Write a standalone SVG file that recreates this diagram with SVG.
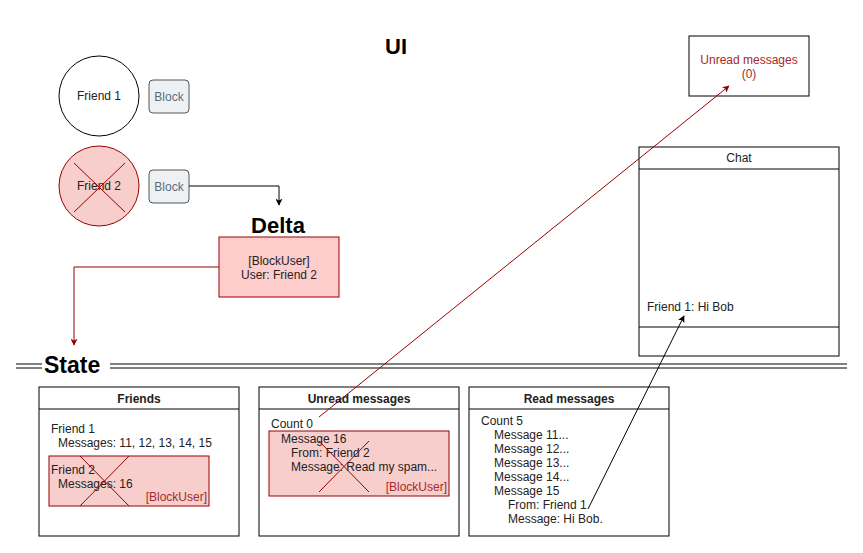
<svg xmlns="http://www.w3.org/2000/svg" width="863" height="553" viewBox="0 0 863 553">
<style>
text{font-family:"Liberation Sans",Arial,sans-serif;font-size:12px;fill:#222}
.c{text-anchor:middle}
.r{text-anchor:end}
.b{font-weight:bold}
.big{font-weight:bold;font-size:22px;fill:#000}
.red{fill:#a52a2a}
.box{fill:#fff;stroke:#000;stroke-width:1}
.pink{fill:#f8cecc;stroke:#990000;stroke-width:1}
.btn{fill:#eef1f4;stroke:#555;stroke-width:1}
.btxt{fill:#5c6a80}
.x{stroke:#990000;stroke-width:1;fill:none}
.dbl{stroke:#000;stroke-width:1}
</style>
<defs>
<marker id="ab" viewBox="0 0 10 10" refX="9" refY="5" markerWidth="7" markerHeight="7" orient="auto" markerUnits="userSpaceOnUse"><path d="M0,0 L10,5 L0,10 L2.5,5 z" fill="#000"/></marker>
<marker id="ar" viewBox="0 0 10 10" refX="9" refY="5" markerWidth="7" markerHeight="7" orient="auto" markerUnits="userSpaceOnUse"><path d="M0,0 L10,5 L0,10 L2.5,5 z" fill="#990000"/></marker>
</defs>
<rect width="863" height="553" fill="#fff"/>

<g id="ui-title"><text x="396" y="54" class="big c">UI</text></g>

<g id="friend1">
<circle cx="99" cy="96" r="40" class="box"/>
<text x="99" y="100" class="c">Friend 1</text>
</g>
<g id="block1">
<rect x="149" y="80" width="40" height="33" rx="4" class="btn"/>
<text x="169" y="101" class="c btxt">Block</text>
</g>
<g id="friend2">
<circle cx="99" cy="186" r="40" class="pink"/>
<text x="99" y="190" class="c">Friend 2</text>
<path d="M74,163 L125,212 M125,163 L74,212" class="x"/>
</g>
<g id="block2">
<rect x="149" y="170" width="40" height="33" rx="4" class="btn"/>
<text x="169" y="191" class="c btxt">Block</text>
</g>

<g id="delta">
<text x="278" y="233" class="big c">Delta</text>
<rect x="219" y="237" width="120" height="60" style="fill:#ffcccc;stroke:#990000"/>
<text x="279" y="265" class="c">[BlockUser]</text>
<text x="279" y="279" class="c">User: Friend 2</text>
</g>

<g id="unread-ui">
<rect x="689" y="36" width="120" height="60" class="box"/>
<text x="749" y="64" class="c red">Unread messages</text>
<text x="749" y="78" class="c red">(0)</text>
</g>

<g id="chat">
<rect x="639" y="147" width="200" height="209" class="box"/>
<line x1="639" y1="169" x2="839" y2="169" stroke="#000"/>
<line x1="639" y1="327" x2="839" y2="327" stroke="#000"/>
<text x="739" y="162" class="c">Chat</text>
<text x="647" y="311">Friend 1: Hi Bob</text>
</g>

<g id="state">
<line x1="16" y1="364" x2="42" y2="364" class="dbl"/>
<line x1="16" y1="368" x2="42" y2="368" class="dbl"/>
<text x="44" y="373" class="big" style="font-size:23px">State</text>
<line x1="110" y1="364" x2="847" y2="364" class="dbl"/>
<line x1="110" y1="368" x2="847" y2="368" class="dbl"/>
</g>

<g id="friends">
<rect x="39" y="387" width="200" height="149" class="box"/>
<line x1="39" y1="409" x2="239" y2="409" stroke="#000"/>
<text x="139" y="403" class="c b">Friends</text>
<text x="51" y="433">Friend 1</text>
<text x="58" y="447">Messages: 11, 12, 13, 14, 15</text>
<rect x="49" y="456" width="160" height="50" class="pink"/>
<text x="51" y="474">Friend 2</text>
<text x="58" y="488">Messages: 16</text>
<text x="207" y="501" class="r red">[BlockUser]</text>
<path d="M80,506 L129,456 M80,456 L129,506" class="x"/>
</g>

<g id="unread-state">
<rect x="259" y="387" width="200" height="149" class="box"/>
<line x1="259" y1="409" x2="459" y2="409" stroke="#000"/>
<text x="359" y="403" class="c b">Unread messages</text>
<text x="271" y="428">Count 0</text>
<rect x="269" y="431" width="180" height="65" class="pink"/>
<text x="281" y="443">Message 16</text>
<text x="291" y="457">From: Friend 2</text>
<text x="291" y="471">Message: Read my spam...</text>
<text x="447" y="491" class="r red">[BlockUser]</text>
<path d="M319,441 L369,492 M319,492 L369,441" class="x"/>
</g>

<g id="read-state">
<rect x="469" y="387" width="200" height="149" class="box"/>
<line x1="469" y1="409" x2="669" y2="409" stroke="#000"/>
<text x="569" y="403" class="c b">Read messages</text>
<text x="481" y="425">Count 5</text>
<text x="494" y="439">Message 11...</text>
<text x="494" y="453">Message 12...</text>
<text x="494" y="467">Message 13...</text>
<text x="494" y="481">Message 14...</text>
<text x="494" y="495">Message 15</text>
<text x="508" y="509">From: Friend 1</text>
<text x="508" y="523">Message: Hi Bob.</text>
</g>

<g id="connectors" fill="none">
<path d="M189,186 L279,186 L279,205" stroke="#000" marker-end="url(#ab)"/>
<path d="M219,267 L74,267 L74,345" stroke="#990000" marker-end="url(#ar)"/>
<path d="M319,417 L729,86" stroke="#990000" marker-end="url(#ar)"/>
<path d="M588,509 L684,316" stroke="#000" marker-end="url(#ab)"/>
</g>
</svg>
